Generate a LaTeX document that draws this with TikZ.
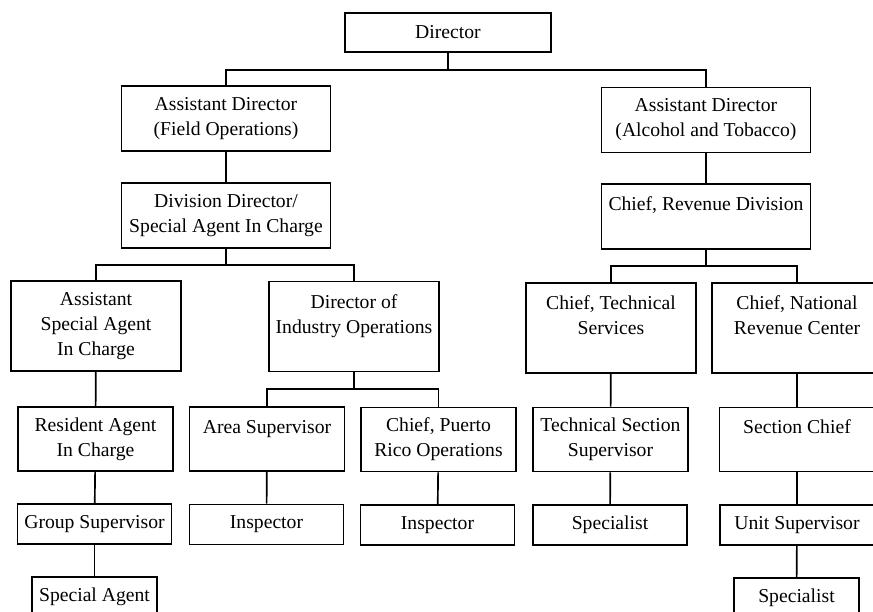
\documentclass[tikz,border=0pt]{standalone}
\usepackage{fontspec}
\setmainfont{Liberation Serif}
\begin{document}
\begin{tikzpicture}[x=0.6pt, y=-0.6pt,
    post/.style={draw, line width=1pt, inner sep=0pt, align=center,
        font=\fontsize{11.8}{15}\selectfont},
    headbox/.style={post, minimum width=123.6pt, minimum height=23.4pt},
    deputybox/.style={post, minimum width=125.4pt, minimum height=39pt},
    chiefbox/.style={post, minimum width=102pt, minimum height=54pt},
    leadbox/.style={post, minimum width=93pt, minimum height=38.4pt},
    staffbox/.style={post, minimum width=92.4pt, minimum height=24pt},
    agentbox/.style={post, minimum width=75pt, minimum height=24pt},
    link/.style={line width=1pt}]
        \useasboundingbox (0,0) rectangle (873,612);
        \clip (0,0) rectangle (873,612);

        % Top of the chart
        \node[headbox] (dir) at (448,32.5) {Director};
        \node[deputybox] (adf) at (226,118.5) {Assistant Director\\(Field Operations)};
        \node[deputybox] (adat) at (706,120) {Assistant Director\\(Alcohol and Tobacco)};
        \node[deputybox] (dd) at (226,215.5) {Division Director/\\Special Agent In Charge};
        \node[deputybox] (crd) at (706,216.5) {Chief, Revenue Division\\~};

        % Chiefs
        \node[chiefbox] (asac) at (96,326) {Assistant\\Special Agent\\In Charge};
        \node[chiefbox] (dio) at (354,326.5) {Director of\\Industry Operations\\~};
        \node[chiefbox] (cts) at (611,328) {Chief, Technical\\Services\\~};
        \node[chiefbox] (cnrc) at (797,328) {Chief, National\\Revenue Center\\~};

        % Supervisors
        \node[leadbox] (rac) at (95.5,439) {Resident Agent\\In Charge};
        \node[leadbox] (area) at (267,439) {Area Supervisor\\~};
        \node[leadbox] (cpr) at (438.5,439.5) {Chief, Puerto\\Rico Operations};
        \node[leadbox] (tss) at (610.5,439.5) {Technical Section\\Supervisor};
        \node[leadbox] (sc) at (797,439.5) {Section Chief\\~};

        % Staff
        \node[staffbox] (gs) at (94.5,524) {Group Supervisor};
        \node[staffbox] (insp1) at (266.5,524.5) {Inspector};
        \node[staffbox] (insp2) at (437.5,525) {Inspector};
        \node[staffbox] (spec1) at (610,525) {Specialist};
        \node[staffbox] (us) at (797,525) {Unit Supervisor};
        \node[agentbox] (sa) at (94.5,597) {Special Agent};
        \node[agentbox] (spec2) at (796.5,598) {Specialist};

        % Branch points
        \coordinate (busdir) at (448,70);
        \coordinate (busdd) at (226,265);
        \coordinate (buscrd) at (706,266);
        \coordinate (busdio) at (354,389);

        % Branching lines
        \draw[link] (dir) -- (busdir);
        \draw[link] (adf) |- (busdir) -| (adat);
        \draw[link] (dd) -- (busdd);
        \draw[link] (asac) |- (busdd) -| (dio);
        \draw[link] (crd) -- (buscrd);
        \draw[link] (cts) |- (buscrd) -| (cnrc);
        \draw[link] (dio) -- (busdio);
        \draw[link] (area) |- (busdio) -| (cpr);

        % Straight lines down
        \foreach \a/\b in {adf/dd, adat/crd, asac/rac, rac/gs, gs/sa,
            area/insp1, cpr/insp2, cts/tss, tss/spec1, cnrc/sc, sc/us, us/spec2} {
            \draw[link] (\a) -- (\b);
        }
    \end{tikzpicture}
\end{document}
